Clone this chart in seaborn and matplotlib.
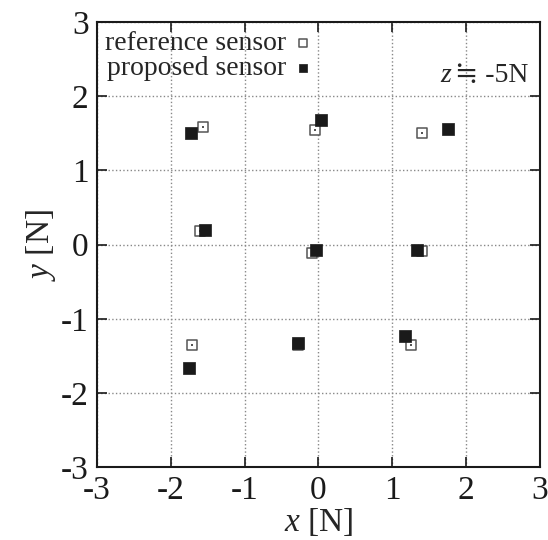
import numpy as np
import pandas as pd
import matplotlib.pyplot as plt
import seaborn as sns

# reference sensor readings
ref_x = [-1.56, -0.04, 1.41, -1.61, -0.08, 1.41, -1.71, -0.27, 1.25]
ref_y = [1.59, 1.54, 1.50, 0.18, -0.11, -0.09, -1.35, -1.35, -1.35]
# proposed sensor readings
prop_x = [-1.72, 0.03, 1.75, -1.54, -0.03, 1.34, -1.76, -0.27, 1.17]
prop_y = [1.50, 1.68, 1.56, 0.20, -0.07, -0.07, -1.66, -1.32, -1.23]
ticks = [-3, -2, -1, 0, 1, 2, 3]

sns.set_style('ticks')
plt.rcParams['font.family'] = ['Liberation Serif', 'DejaVu Serif']
plt.rcParams['axes.unicode_minus'] = False
plt.rcParams['mathtext.fontset'] = 'custom'
plt.rcParams['mathtext.rm'] = 'Liberation Serif'
plt.rcParams['mathtext.it'] = 'Liberation Serif:italic'

fig = plt.figure(figsize=(5.48, 5.40), dpi=100)
ax = fig.add_axes([0.177, 0.135, 0.808, 0.824])

ref_df = pd.DataFrame({'x': ref_x, 'y': ref_y})
prop_df = pd.DataFrame({'x': prop_x, 'y': prop_y})

sns.scatterplot(data=ref_df, x='x', y='y', ax=ax, marker='s', s=60,
                facecolor='white', edgecolor='#555555', linewidth=1.1,
                label='reference sensor', zorder=3)
sns.scatterplot(data=ref_df, x='x', y='y', ax=ax, marker='s', s=2,
                color='#555555', linewidth=0, zorder=3)
sns.scatterplot(data=prop_df, x='x', y='y', ax=ax, marker='s', s=80,
                color='#1a1a1a', edgecolor='#1a1a1a', linewidth=0.5,
                label='proposed sensor', zorder=4)

ax.set_xlim(-3, 3)
ax.set_ylim(-3, 3)
ax.set_xticks(ticks)
ax.set_yticks(ticks)
ax.tick_params(direction='in', top=True, right=True, length=7, width=1.2,
               labelsize=24, pad=6, colors='#1a1a1a')
for sp in ax.spines.values():
    sp.set_linewidth(1.5)
    sp.set_color('#1a1a1a')
ax.grid(True, linestyle=':', color='#888888', linewidth=1.0)

ax.set_xlabel(r'$x$ [N]', fontsize=24, labelpad=0)
ax.set_ylabel(r'$y$ [N]', fontsize=24, labelpad=2)

leg = ax.legend(loc='upper left', markerfirst=False, frameon=False,
                fontsize=20, handletextpad=0.3, borderpad=0.1,
                labelspacing=0.0, borderaxespad=0.2, handlelength=0.6,
                markerscale=0.7)

# z annotation: right part first, then italic z placed to its left
t = ax.text(0.975, 0.88, '≒ -5N', transform=ax.transAxes, ha='right',
            va='center', fontsize=20)
fig.canvas.draw()
bb = t.get_window_extent().transformed(ax.transAxes.inverted())
ax.text(bb.x0 - 0.01, 0.88, 'z', transform=ax.transAxes, ha='right',
        va='center', fontsize=20, style='italic')

fig.savefig('out.png', dpi=100)
